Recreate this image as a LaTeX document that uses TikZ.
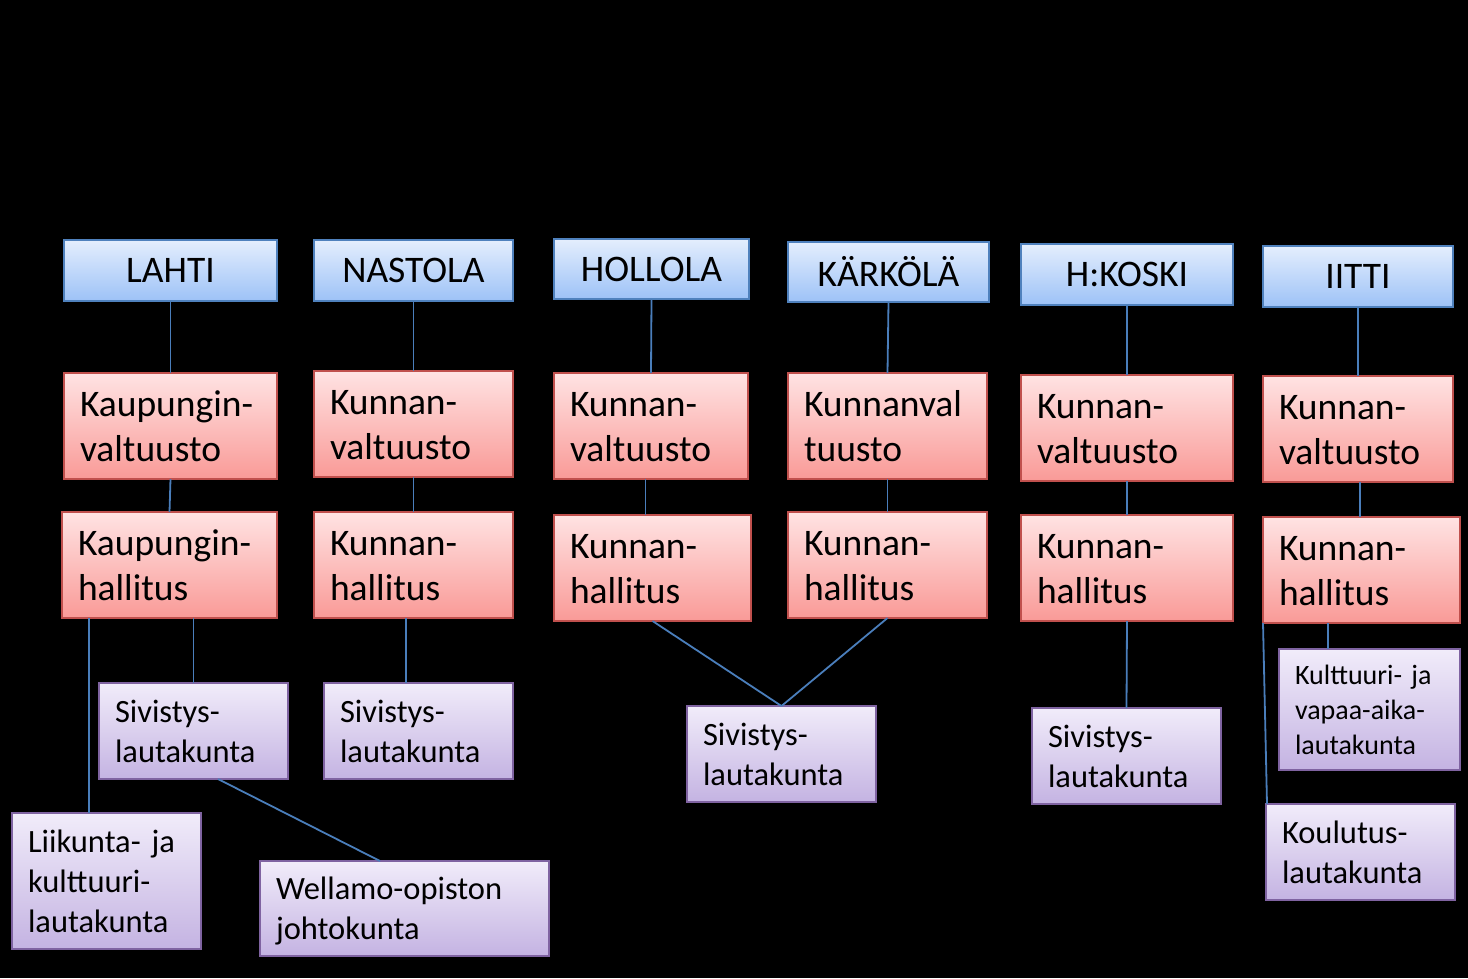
\documentclass[tikz,border=0pt]{standalone}
\usepackage{fontspec}
\setmainfont{Carlito}
\definecolor{bluetop}{HTML}{E4EEFD}
\definecolor{bluebot}{HTML}{9DC2F7}
\definecolor{bluebd}{HTML}{4F81BD}
\definecolor{redtop}{HTML}{FFE3E3}
\definecolor{redbot}{HTML}{F99A97}
\definecolor{redbd}{HTML}{C0504D}
\definecolor{purtop}{HTML}{F1ECFA}
\definecolor{purbot}{HTML}{C4B3E2}
\definecolor{purbd}{HTML}{7F63A1}
\definecolor{linec}{HTML}{4A7EBB}
\newcommand\ls{\rule[-0.22\baselineskip]{0pt}{\baselineskip}}
\tikzset{
  basebox/.style={line width=2.5pt, inner ysep=0pt, inner xsep=16pt, outer sep=0pt},
  bluebox/.style={basebox, draw=bluebd, top color=bluetop, bottom color=bluebot,
    align=center, font=\fontsize{37.5}{45}\selectfont},
  redbox/.style={basebox, draw=redbd, top color=redtop, bottom color=redbot,
    align=left, minimum height=106, font=\fontsize{37.5}{45}\selectfont},
  purbox/.style={basebox, draw=purbd, top color=purtop, bottom color=purbot,
    align=left, font=\fontsize{32.5}{40}\selectfont},
  smallpur/.style={purbox, font=\fontsize{28}{35}\selectfont},
  conn/.style={draw=linec, line width=1.8pt}
}
\begin{document}
\begin{tikzpicture}[x=1pt,y=-1pt]
\fill[black] (0,0) rectangle (1468,978);
\useasboundingbox (0,0) rectangle (1468,978);
% top row
\node[bluebox, minimum width=213, minimum height=61] (lb) at (170.5,270.5) {LAHTI};
\node[bluebox, minimum width=199, minimum height=61] (nb) at (413.5,270.5) {NASTOLA};
\node[bluebox, minimum width=195, minimum height=60] (hb) at (651.5,269) {HOLLOLA};
\node[bluebox, minimum width=201, minimum height=60] (kb) at (888.5,272) {KÄRKÖLÄ};
\node[bluebox, minimum width=212, minimum height=61] (hkb) at (1127,274.5) {H:KOSKI};
\node[bluebox, minimum width=190, minimum height=61] (ib) at (1358,276.5) {IITTI};
% valtuusto
\node[redbox, minimum width=213, text width=181] (lv) at (170.5,426) {\ls Kaupungin-\\\ls valtuusto};
\node[redbox, minimum width=199, text width=167] (nv) at (413.5,424) {\ls Kunnan-\\\ls valtuusto};
\node[redbox, minimum width=194, text width=162] (hv) at (651,426) {\ls Kunnan-\\\ls valtuusto};
\node[redbox, minimum width=199, text width=167] (kv) at (887.5,426) {\ls Kunnanval\\\ls tuusto};
\node[redbox, minimum width=212, text width=180] (hkv) at (1127,428) {\ls Kunnan-\\\ls valtuusto};
\node[redbox, minimum width=190, text width=158] (iv) at (1358,429) {\ls Kunnan-\\\ls valtuusto};
% hallitus
\node[redbox, minimum width=215, text width=183] (lh) at (169.5,565) {\ls Kaupungin-\\\ls hallitus};
\node[redbox, minimum width=199, text width=167] (nh) at (413.5,565) {\ls Kunnan-\\\ls hallitus};
\node[redbox, minimum width=197, text width=165] (hh) at (652.5,568) {\ls Kunnan-\\\ls hallitus};
\node[redbox, minimum width=199, text width=167] (kh) at (887.5,565) {\ls Kunnan-\\\ls hallitus};
\node[redbox, minimum width=212, text width=180] (hkh) at (1127,568) {\ls Kunnan-\\\ls hallitus};
\node[redbox, minimum width=197, text width=165] (ih) at (1361.5,570) {\ls Kunnan-\\\ls hallitus};
% lautakunnat
\node[purbox, minimum width=189, minimum height=96, text width=157] (lsv) at (193.5,731) {\ls Sivistys-\\\ls lautakunta};
\node[purbox, minimum width=189, minimum height=136, text width=157] (lk) at (106.5,881) {\ls Liikunta- ja\\\ls kulttuuri-\\\ls lautakunta};
\node[purbox, minimum width=289, minimum height=95, text width=257] (we) at (404.5,908.5) {\ls Wellamo-opiston\\\ls johtokunta};
\node[purbox, minimum width=189, minimum height=96, text width=157] (ns) at (418.5,731) {\ls Sivistys-\\\ls lautakunta};
\node[purbox, minimum width=189, minimum height=96, text width=157] (hs) at (781.5,754) {\ls Sivistys-\\\ls lautakunta};
\node[purbox, minimum width=189, minimum height=96, text width=157] (hks) at (1126.5,756) {\ls Sivistys-\\\ls lautakunta};
\node[smallpur, minimum width=181, minimum height=121, text width=149] (ikul) at (1369.5,709.5) {\ls Kulttuuri- ja\\\ls vapaa-aika-\\\ls lautakunta};
\node[purbox, minimum width=189, minimum height=96, text width=157] (ikou) at (1360.5,852) {\ls Koulutus-\\\ls lautakunta};
% connectors
\draw[conn] (lb.south) -- (lv.north);
\draw[conn] (lv.south) -- (lh.north);
\draw[conn] ([xshift=-17.5]lk.north) -- ([xshift=-17.5]lk.north |- lh.south);
\draw[conn] (lsv.north) -- (lsv.north |- lh.south);
\draw[conn] ([xshift=24.5]lsv.south) -- ([xshift=-24.5]we.north);
\draw[conn] (nb.south) -- (nv.north);
\draw[conn] (nv.south) -- (nh.north);
\draw[conn] ([xshift=-12.5]ns.north) -- ([xshift=-12.5]ns.north |- nh.south);
\draw[conn] (hb.south) -- (hv.north);
\draw[conn] ([xshift=-7]hh.north) -- ([xshift=-7]hh.north |- hv.south);
\draw[conn] (hh.south) -- (hs.north);
\draw[conn] (kh.south) -- (hs.north);
\draw[conn] (kb.south) -- (kv.north);
\draw[conn] (kv.south) -- (kh.north);
\draw[conn] (hkb.south) -- (hkv.north);
\draw[conn] (hkv.south) -- (hkh.north);
\draw[conn] (hkh.south) -- (hks.north);
\draw[conn] (ib.south) -- (iv.north);
\draw[conn] ([xshift=2]iv.south) -- ([xshift=-1.5]ih.north);
\draw[conn] ([xshift=-41.5]ikul.north) -- ([xshift=-41.5]ikul.north |- ih.south);
\draw[conn] (ih.south west) -- ([xshift=1]ikou.north west);
\end{tikzpicture}
\end{document}
